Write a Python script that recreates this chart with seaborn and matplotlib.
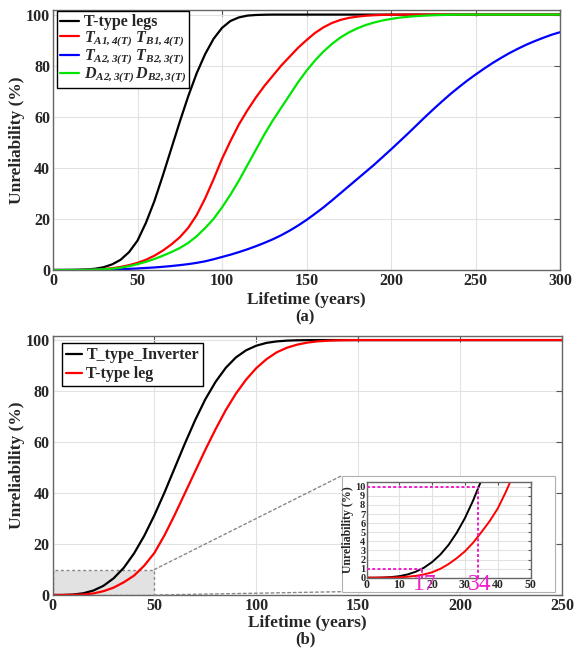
import matplotlib
matplotlib.use("Agg")
import matplotlib.pyplot as plt
import seaborn as sns
from matplotlib.patches import Rectangle, ConnectionPatch

# ---------------- data ----------------
years_a = list(range(0, 305, 5))
black_a = [0, 0, 0.01, 0.05, 0.2, 0.5, 1.1, 2.2, 4.0, 7.0, 11.5, 18.5, 27, 37, 47.5, 58,
           68, 77, 84.5, 90.5, 94.8, 97.5, 98.9, 99.6, 99.85, 99.95] + [100] * 35
red_a = [0, 0, 0.01, 0.04, 0.1, 0.2, 0.4, 0.7, 1.2, 1.9, 2.8, 4.0, 5.6, 7.6, 10, 12.8,
         16.5, 21.5, 28, 35.5, 43.5, 50.5, 57, 62.5, 67.5, 72, 76, 80, 83.5, 87, 90,
         92.8, 95, 96.7, 97.9, 98.7, 99.2, 99.55, 99.75, 99.88, 99.95] + [100] * 20
blue_a = [0, 0, 0.01, 0.02, 0.04, 0.08, 0.13, 0.2, 0.3, 0.45, 0.6, 0.8, 1.0, 1.25, 1.55,
          1.9, 2.3, 2.8, 3.4, 4.2, 5.1, 6.0, 7.0, 8.1, 9.3, 10.6, 12.0, 13.6, 15.4, 17.4,
          19.6, 22, 24.5, 27.2, 30, 32.8, 35.6, 38.4, 41.2, 44.2, 47.2, 50.3, 53.4, 56.6,
          59.8, 62.9, 65.9, 68.8, 71.5, 74.1, 76.5, 78.8, 81, 83, 84.9, 86.6, 88.2, 89.6,
          90.9, 92.1, 93.1]
green_a = [0, 0, 0.01, 0.03, 0.07, 0.15, 0.3, 0.5, 0.9, 1.5, 2.3, 3.2, 4.3, 5.6, 7.0, 8.6,
           10.6, 13.2, 16.4, 20, 24.5, 29.5, 35, 41, 47, 53, 58.5, 63.5, 68.5, 73.5, 78,
           82, 85.5, 88.5, 91, 93, 94.6, 95.9, 96.9, 97.7, 98.3, 98.8, 99.15, 99.4, 99.6,
           99.75, 99.85, 99.92, 99.96] + [100] * 12

years_b = list(range(0, 255, 5))
inverter_b = [0, 0.02, 0.17, 0.66, 1.73, 3.61, 6.56, 10.7, 16.3, 23.2, 31.3, 40.3, 49.9,
              59.5, 68.6, 76.8, 83.6, 89.1, 93.2, 96.0, 97.8, 98.9, 99.48, 99.78, 99.92,
              99.97] + [100] * 25
leg_b = [0, 0.01, 0.05, 0.2, 0.6, 1.5, 2.9, 5.0, 7.6, 11.5, 16.5, 23.5, 31.5, 40, 48.5,
         57, 65, 72.5, 79, 84.5, 89, 92.5, 95.2, 97, 98.2, 99, 99.5, 99.75, 99.9,
         99.97] + [100] * 21

# zoomed inset (0-50 years, finer reading)
years_in = [0, 2.5, 5, 7.5, 10, 12.5, 15, 17.5, 20, 22.5, 25, 27.5, 30, 32.5, 35, 37.5,
            40, 42.5, 45, 47.5, 50]
inverter_in = [0, 0, 0.02, 0.07, 0.17, 0.36, 0.66, 1.1, 1.73, 2.55, 3.61, 4.95, 6.56,
               8.5, 10.7, 13.3, 16.3, 19.6, 23.2, 27.1, 31.3]
leg_in = [0, 0, 0.01, 0.02, 0.05, 0.11, 0.2, 0.36, 0.6, 0.98, 1.5, 2.15, 2.9, 3.85, 5.0,
          6.2, 7.6, 9.45, 11.5, 13.9, 16.5]

labels_a = ["T-type legs",
            r"$T_{A1,4(T)}\ T_{B1,4(T)}$",
            r"$T_{A2,3(T)}\ T_{B2,3(T)}$",
            r"$D_{A2,3(T)}\,D_{B2,3(T)}$"]
labels_b = ["T_type_Inverter", "T-type leg"]
marks_x = [17, 34]
marks_y = [1, 10]

# ---------------- style ----------------
sns.set_style("white")
plt.rcParams["font.family"] = ["Liberation Serif", "DejaVu Serif"]
plt.rcParams["font.weight"] = "bold"
plt.rcParams["mathtext.fontset"] = "custom"
plt.rcParams["mathtext.it"] = "Liberation Serif:italic:bold"
plt.rcParams["mathtext.rm"] = "Liberation Serif:italic:bold"
plt.rcParams["mathtext.bf"] = "Liberation Serif:italic:bold"

W, H = 575, 650
fig = plt.figure(figsize=(W / 100, H / 100), dpi=100)


def fx(px):
    return px / W


def fy(py):
    return 1 - py / H


def style(ax, xlim, ylim, xticks, yticks, fs, tl=4, yfs=None):
    ax.set_xlim(*xlim)
    ax.set_ylim(*ylim)
    ax.set_xticks(xticks)
    ax.set_yticks(yticks)
    ax.grid(True, color="#e2e2e2", lw=0.8)
    ax.set_axisbelow(True)
    ax.tick_params(direction="in", top=True, right=True, length=tl, width=0.8,
                   color="#555555", labelsize=fs, pad=2)
    if yfs is not None:
        ax.tick_params(axis="y", labelsize=yfs)
    for lab in ax.get_xticklabels() + ax.get_yticklabels():
        lab.set_fontweight("bold")
    for s in ax.spines.values():
        s.set_color("#666666")
        s.set_linewidth(1.0)


ax_a = fig.add_axes([fx(53), fy(270), fx(560 - 53), (270 - 10) / H])
ax_b = fig.add_axes([fx(52.5), fy(595), fx(562 - 52.5), (595 - 336) / H])

# ---------------- panel (a) ----------------
lw = 1.6
sns.lineplot(x=years_a, y=black_a, color="black", lw=lw, ax=ax_a, label=labels_a[0])
sns.lineplot(x=years_a, y=red_a, color="#ff0000", lw=lw, ax=ax_a, label=labels_a[1])
sns.lineplot(x=years_a, y=blue_a, color="#0000ff", lw=lw, ax=ax_a, label=labels_a[2])
sns.lineplot(x=years_a, y=green_a, color="#00e600", lw=lw, ax=ax_a, label=labels_a[3])
style(ax_a, (0, 300), (0, 101.8), range(0, 301, 50), range(0, 101, 20), 11.5)
ax_a.set_xlabel("Lifetime (years)", fontsize=12.5, fontweight="bold", labelpad=2)
ax_a.set_ylabel("Unreliability (%)", fontsize=12.5, fontweight="bold")
ax_a.yaxis.set_label_coords((25 - 53) / (560 - 53), 0.5)
leg = ax_a.legend(loc="upper left", bbox_to_anchor=(0.007, 0.996), borderaxespad=0,
                  fontsize=11.5, frameon=True, fancybox=False, framealpha=1,
                  edgecolor="black", handlelength=1.2, handletextpad=0.3,
                  labelspacing=-0.05, borderpad=0.2)
leg.get_frame().set_linewidth(1.0)
for t in leg.get_texts():
    t.set_fontweight("bold")
fig.text(fx(305), fy(317), "(a)", ha="center", va="center", fontsize=12, fontweight="bold")

# ---------------- panel (b) ----------------
ax_b.add_patch(Rectangle((0, 0), 50, 10, facecolor="#e2e2e2", edgecolor="#888888",
                         lw=1.0, ls=(0, (2, 2)), zorder=1.5))
sns.lineplot(x=years_b, y=inverter_b, color="black", lw=lw, ax=ax_b, label=labels_b[0])
sns.lineplot(x=years_b, y=leg_b, color="#ff0000", lw=lw, ax=ax_b, label=labels_b[1])
style(ax_b, (0, 250), (0, 101.6), range(0, 251, 50), range(0, 101, 20), 11.5)
ax_b.set_xlabel("Lifetime (years)", fontsize=12.5, fontweight="bold", labelpad=1)
ax_b.set_ylabel("Unreliability (%)", fontsize=12.5, fontweight="bold")
ax_b.yaxis.set_label_coords((25 - 52.5) / (562 - 52.5), 0.5)
legb = ax_b.legend(loc="upper left", bbox_to_anchor=(0.018, 0.972), borderaxespad=0,
                   fontsize=11.5, frameon=True, fancybox=False, framealpha=1,
                   edgecolor="black", handlelength=1.0, handletextpad=0.3,
                   labelspacing=0.2, borderpad=0.25)
legb.get_frame().set_linewidth(1.0)
for t in legb.get_texts():
    t.set_fontweight("bold")
fig.text(fx(305), fy(639), "(b)", ha="center", va="center", fontsize=12, fontweight="bold")

# inset frame box and connectors
bx0, bx1, by0, by1 = 341.7, 555, 475.7, 591.7
fig.add_artist(Rectangle((fx(bx0), fy(by1)), fx(bx1 - bx0), (by1 - by0) / H,
                         transform=fig.transFigure, facecolor="white",
                         edgecolor="#b0b0b0", lw=0.8, zorder=3))
for (dx, dy), py in [((50, 10), by0), ((50, 0), by1)]:
    cp = ConnectionPatch(xyA=(dx, dy), coordsA="data", axesA=ax_b,
                         xyB=(fx(bx0), fy(py)), coordsB="figure fraction",
                         color="#888888", lw=1.0, ls=(0, (2, 2)), zorder=2.5)
    fig.add_artist(cp)

ax_in = fig.add_axes([fx(366.7), fy(577.7), fx(530.5 - 366.7), (577.7 - 481.7) / H])
ax_in.set_zorder(4)
sns.lineplot(x=years_in, y=inverter_in, color="black", lw=1.4, ax=ax_in)
sns.lineplot(x=years_in, y=leg_in, color="#ff0000", lw=1.4, ax=ax_in)
style(ax_in, (0, 50), (0, 10.55), range(0, 51, 10), range(0, 11, 1), 8.5, tl=2, yfs=7.5)
ax_in.tick_params(pad=1)
ax_in.set_ylabel("Unreliability (%)", fontsize=8.5, fontweight="bold", labelpad=1)
ax_in.set_xlabel("")
mag = "#ee1ec8"
for mx, my in zip(marks_x, marks_y):
    ax_in.plot([0, mx], [my, my], color=mag, lw=1.4, ls=(0, (1.5, 1.2)), zorder=5)
    ax_in.plot([mx, mx], [0, my], color=mag, lw=1.4, ls=(0, (1.5, 1.2)), zorder=5)
    ax_in.text(mx + 0.6, -0.8, str(mx), color=mag, fontsize=17, fontweight="normal",
               ha="center", va="center", clip_on=False, zorder=6)

fig.savefig("out.png", dpi=100)
